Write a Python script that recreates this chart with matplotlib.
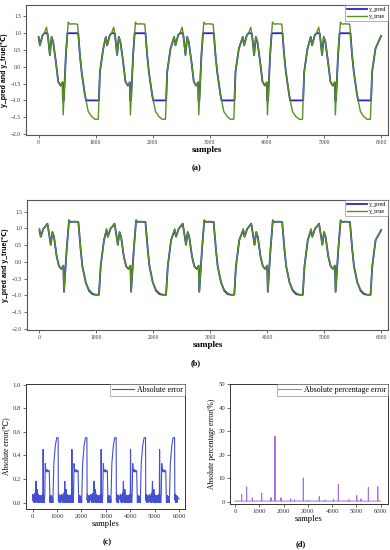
import numpy as np
import matplotlib
matplotlib.use('Agg')
import matplotlib.pyplot as plt

# ---------------- data ----------------
cycle_starts = [0, 1178, 2375, 3578, 4768]

# panel (a): one cycle, x offsets relative to cycle start
cyc_x_a = [0, 23, 70, 100, 140, 155, 168, 198, 228, 256, 303, 344, 385, 420, 426, 431, 442,
           478, 505, 519, 548, 600, 665, 683, 695, 724, 754, 812, 831, 870, 929, 987, 1045,
           1057, 1075, 1133]
true_a = [0.89, 0.64, 0.94, 1.00, 1.18, 1.00, 0.84, 0.35, 0.89, 0.74, 0.15, -0.44, -0.56,
          -0.46, -1.00, -1.43, -1.00, 0.35, 1.00, 1.33, 1.27, 1.28, 1.27, 1.27, 1.00, 0.35,
          -0.15, -0.84, -1.00, -1.33, -1.48, -1.56, -1.56, -1.00, -0.15, 0.54]
pred_a = [0.89, 0.64, 0.94, 1.00, 1.00, 1.00, 0.84, 0.35, 0.89, 0.74, 0.15, -0.44, -0.56,
          -0.46, -1.00, -1.00, -1.00, 0.35, 1.00, 1.00, 1.00, 1.00, 1.00, 1.00, 1.00, 0.35,
          -0.15, -0.84, -1.00, -1.00, -1.00, -1.00, -1.00, -1.00, -0.15, 0.54]
end_a = (6000, 0.92)

# panel (b)
cyc_x_b = [0, 23, 70, 100, 140, 168, 198, 228, 256, 303, 344, 385, 420, 431, 478, 519, 548,
           600, 665, 683, 724, 754, 812, 870, 929, 987, 1045, 1075, 1133]
true_b = [0.99, 0.75, 0.99, 1.05, 1.14, 0.85, 0.51, 0.89, 0.74, 0.16, -0.13, -0.21, -0.11,
          -0.89, 0.36, 1.24, 1.19, 1.20, 1.19, 1.19, 0.36, -0.13, -0.61, -0.83, -0.93, -0.98,
          -0.98, -0.13, 0.65]
pred_b = [0.95, 0.75, 0.99, 1.05, 1.14, 0.85, 0.51, 0.89, 0.74, 0.16, -0.13, -0.21, -0.11,
          -0.89, 0.36, 1.24, 1.19, 1.20, 1.19, 1.19, 0.36, -0.13, -0.61, -0.86, -0.96, -0.98,
          -0.98, -0.13, 0.65]
end_b = (6000, 0.95)

# panel (c): absolute error per cycle
cyc_x_c = [0, 12, 25, 40, 55, 70, 85, 100, 115, 140, 155, 170, 185, 198, 212, 228, 242, 256,
           270, 285, 300, 315, 330, 345, 360, 375, 390, 405, 420, 431, 445, 460, 478, 500,
           519, 535, 548, 575, 600, 625, 650, 683, 700, 712, 725, 740, 755, 770, 785, 800,
           815, 830, 870, 929, 987, 1045, 1055, 1070, 1085, 1100, 1115, 1130, 1145, 1160]
err_c = [0.03, 0.07, 0.01, 0.06, 0.00, 0.05, 0.02, 0.08, 0.00, 0.18, 0.02, 0.06, 0.00, 0.11,
         0.01, 0.07, 0.00, 0.05, 0.01, 0.06, 0.00, 0.04, 0.01, 0.06, 0.00, 0.05, 0.01, 0.07,
         0.00, 0.45, 0.01, 0.06, 0.00, 0.08, 0.33, 0.29, 0.27, 0.26, 0.28, 0.26, 0.27, 0.27,
         0.12, 0.00, 0.05, 0.01, 0.06, 0.00, 0.05, 0.01, 0.04, 0.00, 0.33, 0.48, 0.55, 0.55,
         0.02, 0.07, 0.00, 0.05, 0.01, 0.06, 0.00, 0.05]
end_c = (6000, 0.03)

# panel (d): absolute percentage error spikes
spike_x = [275, 481, 714, 1099, 1483, 1647, 1894, 2294, 2450, 2813, 3000, 3472, 3700, 4049,
           4255, 4695, 5012, 5189, 5491, 5877]
spike_h = [3.0, 6.3, 1.6, 3.7, 1.7, 27.9, 1.6, 1.2, 0.8, 10.1, 0.5, 2.2, 0.6, 1.0, 7.3, 0.8,
           2.6, 1.2, 6.0, 6.4]
base_d = 0.25

xticks_all = [0, 1000, 2000, 3000, 4000, 5000, 6000]
yticks_ab = [-2.0, -1.5, -1.0, -0.5, 0.0, 0.5, 1.0, 1.5]
yticks_c = [0.0, 0.2, 0.4, 0.6, 0.8, 1.0]
yticks_d = [0, 10, 20, 30, 40, 50]


def build(starts, offs, vals, end):
    xs, ys = [], []
    for s in starts:
        xs += [s + o for o in offs]
        ys += list(vals)
    xs.append(end[0])
    ys.append(end[1])
    return np.array(xs), np.array(ys)


xa, ta = build(cycle_starts, cyc_x_a, true_a, end_a)
_, pa = build(cycle_starts, cyc_x_a, pred_a, end_a)
xb, tb = build(cycle_starts, cyc_x_b, true_b, end_b)
_, pb = build(cycle_starts, cyc_x_b, pred_b, end_b)
xc, ec = build(cycle_starts, cyc_x_c, err_c, end_c)

xd = [0]
yd = [base_d]
for sx, sh in zip(spike_x, spike_h):
    xd += [sx - 8, sx, sx + 8]
    yd += [base_d, sh, base_d]
xd.append(6000)
yd.append(base_d)

# ---------------- drawing ----------------
SERIF = ['Liberation Serif', 'DejaVu Serif']
SANS = ['Liberation Sans', 'DejaVu Sans']
plt.rcParams['font.family'] = SERIF

GREEN = '#5a9020'
BLUE = '#2424c8'
ERRC = '#4450d2'
ERRD = '#a070e4'

fig = plt.figure(figsize=(3.9, 5.5), dpi=100)


def style(ax, fs=4, frame='#555555', lw=0.8):
    for sp in ax.spines.values():
        sp.set_color(frame)
        sp.set_linewidth(lw)
    ax.tick_params(direction='out', length=2, width=0.5, labelsize=fs, pad=1.5,
                   colors='#333333')


def top_panel(ax, x, t, p):
    ax.plot(x, p, color=BLUE, lw=1.3, label='y_pred', zorder=2)
    ax.plot(x, t, color=GREEN, lw=1.0, label='y_true', zorder=3)
    ax.set_xlim(-220, 6120)
    ax.set_ylim(-2.03, 1.84)
    ax.set_xticks(xticks_all)
    ax.set_yticks(yticks_ab)
    style(ax)
    ax.set_ylabel('y_pred and y_true(\u2103)', fontsize=5, fontweight='bold',
                  family=SANS, labelpad=2)
    ax.set_xlabel('samples', fontsize=6.5, fontweight='bold', labelpad=0.5)
    leg = ax.legend(loc='upper right', fontsize=4.5, frameon=True, fancybox=False,
                    borderaxespad=0, handlelength=3.2, handletextpad=0.3,
                    borderpad=0.3, labelspacing=0.2)
    leg.get_frame().set_edgecolor('#777777')
    leg.get_frame().set_linewidth(0.5)


ax_a = fig.add_axes([0.0667, 0.7545, 0.928, 0.2364])
top_panel(ax_a, xa, ta, pa)
fig.text(0.503, 0.6945, '(a)', ha='center', va='center', fontsize=6, fontweight='bold')

ax_b = fig.add_axes([0.069, 0.40, 0.926, 0.236])
top_panel(ax_b, xb, tb, pb)
fig.text(0.503, 0.34, '(b)', ha='center', va='center', fontsize=6, fontweight='bold')

ax_c = fig.add_axes([0.0667, 0.0745, 0.4077, 0.2273])
ax_c.plot(xc, ec, color=ERRC, lw=0.8, label='Absolute error')
ax_c.set_xlim(-270, 6240)
ax_c.set_ylim(-0.055, 1.005)
ax_c.set_xticks(xticks_all)
ax_c.set_yticks(yticks_c)
style(ax_c, fs=4.8, frame='#333333', lw=0.7)
ax_c.set_ylabel('Absolute error(\u2103)', fontsize=5.5, labelpad=2)
ax_c.set_xlabel('samples', fontsize=6.2, labelpad=0.5)
leg = ax_c.legend(loc='upper right', fontsize=5.7, frameon=True, fancybox=False,
                  borderaxespad=0, handlelength=2.8, handletextpad=0.4, borderpad=0.25)
leg.get_frame().set_edgecolor('#777777')
leg.get_frame().set_linewidth(0.5)
fig.text(0.275, 0.0145, '(c)', ha='center', va='center', fontsize=6, fontweight='bold')

ax_d = fig.add_axes([0.590, 0.0836, 0.405, 0.2182])
ax_d.plot(xd, yd, color=ERRD, lw=0.7, label='Absolute percentage error')
ax_d.set_xlim(-200, 6300)
ax_d.set_ylim(-1, 50.05)
ax_d.set_xticks(xticks_all)
ax_d.set_yticks(yticks_d)
style(ax_d, fs=4.8, frame='#333333', lw=0.7)
ax_d.set_ylabel('Absolute percentage error(%)', fontsize=5.5, labelpad=2)
ax_d.set_xlabel('samples', fontsize=6.2, labelpad=0.5)
leg = ax_d.legend(loc='upper right', fontsize=5.7, frameon=True, fancybox=False,
                  borderaxespad=0, handlelength=2.8, handletextpad=0.4, borderpad=0.25)
leg.get_frame().set_edgecolor('#777777')
leg.get_frame().set_linewidth(0.5)
fig.text(0.772, 0.011, '(d)', ha='center', va='center', fontsize=6, fontweight='bold')

fig.savefig('out.png', dpi=100)
